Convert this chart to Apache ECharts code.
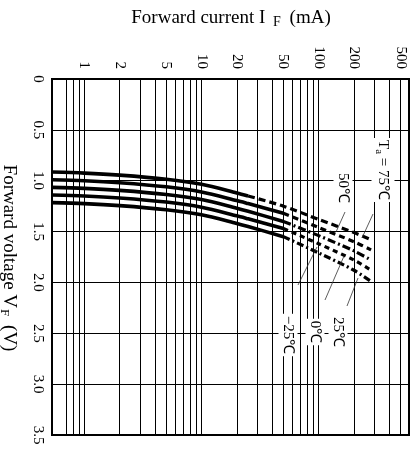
<!DOCTYPE html>
<html>
<head>
<meta charset="utf-8">
<script src="https://cdn.jsdelivr.net/npm/echarts@6/dist/echarts.min.js"></script>
<style>
  html, body { margin: 0; padding: 0; background: #fff; }
  #c { width: 413px; height: 449px; }
</style>
</head>
<body>
<div id="c"></div>
<script>
// Forward current I_F (mA) sample points shared by every curve
const currents = [0.53, 1, 2, 5, 10, 20, 25, 50, 100, 200, 280];

// Forward voltage V_F (V) per ambient temperature
const vf75  = [0.915, 0.925, 0.945, 0.985, 1.035, 1.12, 1.15, 1.25, 1.38, 1.51, 1.58];
const vf50  = [0.99, 1.0, 1.02, 1.06, 1.11, 1.195, 1.225, 1.32, 1.46, 1.60, 1.68];
const vf25  = [1.065, 1.075, 1.095, 1.135, 1.185, 1.27, 1.30, 1.40, 1.54, 1.69, 1.78];
const vf0   = [1.14, 1.15, 1.17, 1.21, 1.26, 1.345, 1.375, 1.47, 1.62, 1.78, 1.88];
const vfm25 = [1.215, 1.225, 1.245, 1.285, 1.335, 1.42, 1.45, 1.55, 1.71, 1.88, 1.99];

// Current above which each curve is drawn broken (outside rated region)
const breakCurrents = [25, 50, 50, 50, 50];

// Axis ticks
const currentLabels = [1, 2, 5, 10, 20, 50, 100, 200, 500];
const currentGrid = [0.7, 0.8, 0.9, 1, 2, 3, 4, 5, 6, 7, 8, 9, 10, 20, 30, 40, 50, 60, 70, 80, 90, 100, 200, 300, 400, 500];
const voltageMin = 0, voltageMax = 3.5, voltageStep = 0.5;

const curves = [vf75, vf50, vf25, vf0, vfm25];
const dashes = [[7, 4], [6, 4], [8, 3, 2, 3], [5, 4], [7, 3, 2, 3]];

const FONT = '"Liberation Serif", "Times New Roman", serif';

const series = [];
curves.forEach((vals, i) => {
  const pts = currents.map((c, j) => [c, vals[j]]);
  const brk = breakCurrents[i];
  series.push({
    type: 'line', data: pts.filter(p => p[0] <= brk), showSymbol: false, smooth: 0.3,
    lineStyle: { color: '#000', width: 3.6 }, silent: true
  });
  series.push({
    type: 'line', data: pts.filter(p => p[0] >= brk), showSymbol: false, smooth: 0.3,
    lineStyle: { color: '#000', width: 3.2, type: dashes[i] }, silent: true
  });
});

const chart = echarts.init(document.getElementById('c'), null, { renderer: 'canvas' });

const tempLabel = (text, x, y) => ({
  type: 'text', x: x, y: y, rotation: -Math.PI / 2, z: 100,
  style: {
    text: text, font: '15px ' + FONT, fill: '#000',
    align: 'center', verticalAlign: 'middle',
    backgroundColor: '#fff', padding: [2, 2],
    rich: {
      n: { font: '15px ' + FONT, fill: '#000' },
      s: { font: '11px ' + FONT, fill: '#000', padding: [8, 0, 0, 0] }
    }
  }
});
const leader = (x1, y1, x2, y2) => ({
  type: 'line', z: 99, shape: { x1, y1, x2, y2 },
  style: { stroke: '#333', lineWidth: 0.8 }
});

chart.setOption({
  animation: false,
  backgroundColor: '#fff',
  grid: { left: 52, top: 79, width: 357, height: 356, show: true, borderColor: '#000', borderWidth: 2, backgroundColor: 'transparent' },
  xAxis: {
    type: 'log', logBase: 10, position: 'top', min: 0.53, max: 590,
    axisLine: { show: true, lineStyle: { color: '#000', width: 2 } },
    axisTick: { show: false, customValues: currentGrid },
    splitLine: { show: true, lineStyle: { color: '#000', width: 1 } },
    minorSplitLine: { show: false },
    axisLabel: {
      customValues: currentLabels, rotate: -90, margin: 10,
      color: '#000', fontFamily: FONT, fontSize: 15,
      formatter: v => String(v)
    }
  },
  yAxis: {
    type: 'value', inverse: true, min: voltageMin, max: voltageMax, interval: voltageStep,
    axisLine: { show: true, lineStyle: { color: '#000', width: 2 } },
    axisTick: { show: false },
    splitLine: { show: true, lineStyle: { color: '#000', width: 1 } },
    axisLabel: {
      rotate: -90, margin: 7, color: '#000', fontFamily: FONT, fontSize: 15,
      formatter: v => (v === 0 ? '0' : v.toFixed(1))
    }
  },
  series: series,
  graphic: [
    {
      type: 'text', x: 231, y: 18, z: 100,
      style: {
        text: '{n|Forward current I }{s|F}{n| (mA)}',
        align: 'center', verticalAlign: 'middle',
        rich: {
          n: { font: '19px ' + FONT, fill: '#000' },
          s: { font: '14px ' + FONT, fill: '#000', padding: [9, 4, 0, 3] }
        }
      }
    },
    {
      type: 'text', x: 9, y: 258, rotation: -Math.PI / 2, z: 100,
      style: {
        text: '{n|Forward voltage V}{s|F}{n| (V)}',
        align: 'center', verticalAlign: 'middle',
        rich: {
          n: { font: '19px ' + FONT, fill: '#000' },
          s: { font: '13px ' + FONT, fill: '#000', padding: [9, 4, 0, 1] }
        }
      }
    },
    leader(373, 214, 362, 238),
    leader(345, 212, 336, 232),
    leader(347, 306, 358, 278),
    leader(325, 300, 344, 256),
    leader(298, 285, 317, 247),
    tempLabel('{n|T}{s|a}{n| = 75℃}', 383, 170),
    tempLabel('50℃', 343, 188),
    tempLabel('25℃', 338, 332),
    tempLabel('0℃', 315, 332),
    tempLabel('−25℃', 288, 335)
  ]
});
</script>
</body>
</html>
